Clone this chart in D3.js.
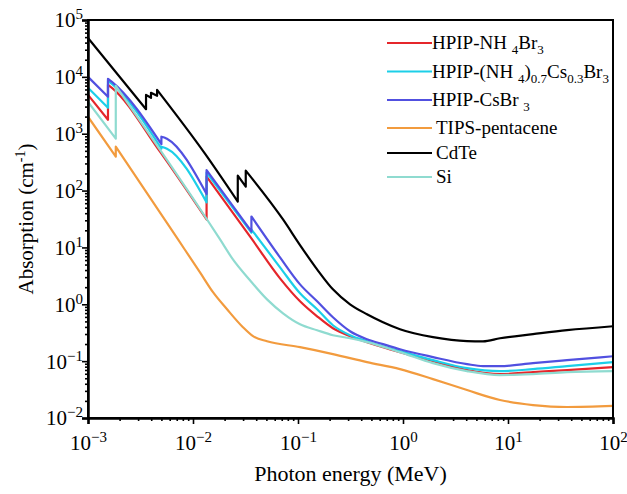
<!DOCTYPE html>
<html>
<head>
<meta charset="utf-8">
<script src="https://cdn.jsdelivr.net/npm/d3@7"></script>
</head>
<body style="margin:0; background:#fff;">
<div class="chart"></div>
<script>
//==================================
// Data (photon energy in MeV, absorption in cm^-1)
//==================================
var energyTicks = [1e-3, 1e-2, 1e-1, 1, 10, 100];
var absorptionTicks = [1e-2, 1e-1, 1, 10, 100, 1e3, 1e4, 1e5];

var hpipNH4Br3 = [
	[1e-3, 4830], [1.55e-3, 1760], [1.55e-3, 7240], [1.69e-3, 6420], [4.85e-3, 483],
	[1.347e-2, 31.0], [1.347e-2, 176], [3.6e-2, 14.4], [6.74e-2, 2.86], [0.1045, 1.13],
	[0.152, 0.615], [0.215, 0.379], [0.313, 0.275], [0.454, 0.216], [0.645, 0.176],
	[0.936, 0.144], [1.93, 0.100], [4.07, 0.0695], [8.39, 0.0591], [17.3, 0.0641],
	[36.5, 0.0695], [100, 0.0785]
];

var hpipMixed = [
	[1e-3, 6420], [1.55e-3, 2860], [1.55e-3, 8510], [1.69e-3, 7530], [5.0e-3, 546],
	[5.0e-3, 591], [5.65e-3, 546], [1.347e-2, 62], [1.347e-2, 207], [3.6e-2, 18.3],
	[3.6e-2, 20.7], [6.74e-2, 4.46], [0.1045, 1.56], [0.152, 0.817], [0.215, 0.428],
	[0.313, 0.286], [0.454, 0.224], [0.645, 0.183], [0.936, 0.150], [1.93, 0.104],
	[4.07, 0.0753], [8.39, 0.0668], [17.3, 0.0724], [36.5, 0.0817], [100, 0.0960]
];

var hpipCsBr3 = [
	[1e-3, 10000], [1.55e-3, 4460], [1.55e-3, 9220], [1.69e-3, 8160], [5.0e-3, 654],
	[5.0e-3, 886], [5.4e-3, 851], [5.65e-3, 817], [1.347e-2, 87], [1.347e-2, 228],
	[3.6e-2, 19.1], [3.6e-2, 35.0], [6.74e-2, 6.68], [0.1045, 2.24], [0.152, 1.13],
	[0.215, 0.591], [0.313, 0.336], [0.454, 0.243], [0.645, 0.199], [0.936, 0.162],
	[1.93, 0.118], [4.07, 0.0886], [5.78, 0.0817], [8.39, 0.0817], [17.3, 0.0922],
	[36.5, 0.104], [100, 0.122]
];

var tipsPentacene = [
	[1e-3, 1990], [1.839e-3, 395], [1.839e-3, 591], [7.2e-3, 13.8], [1.166e-2, 3.64],
	[1.55e-2, 1.63], [2.11e-2, 0.817], [2.99e-2, 0.395], [3.73e-2, 0.275], [5.07e-2, 0.224],
	[0.1045, 0.176], [0.215, 0.133], [0.454, 0.0960], [0.936, 0.0724], [1.93, 0.0483],
	[4.07, 0.0310], [8.39, 0.0207], [17.3, 0.0169], [36.5, 0.0156], [100, 0.0163]
];

var cdte = [
	[1e-3, 48300], [3.57e-3, 2700], [3.57e-3, 4830], [3.98e-3, 4280], [3.98e-3, 5240],
	[4.55e-3, 4640], [4.55e-3, 5900], [1.30e-2, 446], [2.67e-2, 64], [2.67e-2, 183],
	[3.18e-2, 117], [3.18e-2, 224], [7.2e-2, 31.0], [0.1045, 11.0], [0.152, 4.11],
	[0.215, 1.83], [0.313, 1.00], [0.454, 0.668], [0.645, 0.483], [0.936, 0.364],
	[1.93, 0.264], [4.07, 0.225], [5.78, 0.223], [8.39, 0.253], [17.3, 0.298],
	[36.5, 0.350], [100, 0.411]
];

var silicon = [
	[1e-3, 3640], [1.839e-3, 817], [1.839e-3, 6950], [1.36e-2, 31.0], [1.81e-2, 13.8],
	[2.40e-2, 6.15], [3.49e-2, 2.64], [5.07e-2, 1.22], [7.2e-2, 0.695], [0.1045, 0.446],
	[0.152, 0.350], [0.215, 0.286], [0.313, 0.253], [0.454, 0.216], [0.936, 0.144],
	[1.93, 0.0922], [4.07, 0.0668], [8.39, 0.0568], [17.3, 0.0591], [36.5, 0.0641],
	[100, 0.0668]
];

// legend labels: [text, 0 normal / 1 subscript]
var seriesLabels = [
	[["HPIP-NH ", 0], ["4", 1], ["Br", 0], ["3", 1]],
	[["HPIP-(NH ", 0], ["4", 1], [")", 0], ["0.7", 1], ["Cs", 0], ["0.3", 1], ["Br", 0], ["3", 1]],
	[["HPIP-CsBr ", 0], ["3", 1]],
	[["TIPS-pentacene", 0]],
	[["CdTe", 0]],
	[["Si", 0]]
];
var seriesData = [hpipNH4Br3, hpipMixed, hpipCsBr3, tipsPentacene, cdte, silicon];
var seriesColors = ["#e5262b", "#1ccfe8", "#5150e0", "#f29b3e", "#000000", "#8fdbd0"];

var FONT = "'Liberation Serif', 'Times New Roman'";

//==================================
// Set up our chart
//==================================
var svgWidth = 627;
var svgHeight = 494;
var margin = { top: 20, right: 14, bottom: 76, left: 88 };
var width = svgWidth - margin.left - margin.right;
var height = svgHeight - margin.top - margin.bottom;

var svg = d3.select(".chart")
	.append("svg")
	.attr("width", svgWidth)
	.attr("height", svgHeight);

var chart = svg.append("g")
	.attr("transform", "translate(" + margin.left + "," + margin.top + ")");

var xScale = d3.scaleLog().domain([1e-3, 1e2]).range([0, width]);
var yScale = d3.scaleLog().domain([1e-2, 1e5]).range([height, 0]);

// minor tick positions 2..9 in each decade
function minorTicks(lo, hi) {
	var out = [];
	for (var p = lo; p < hi; p++) {
		for (var m = 2; m <= 9; m++) out.push(m * Math.pow(10, p));
	}
	return out;
}

// smooth pieces between absorption edges, joined by vertical jumps
var smooth = d3.line()
	.x(function(d) { return xScale(d[0]); })
	.y(function(d) { return yScale(d[1]); })
	.curve(d3.curveMonotoneX);

function edgePath(data) {
	var pieces = [[data[0]]];
	for (var i = 1; i < data.length; i++) {
		if (data[i][0] === data[i - 1][0]) pieces.push([data[i]]);
		else pieces[pieces.length - 1].push(data[i]);
	}
	return pieces.map(function(p, k) {
		var s = p.length > 1 ? smooth(p) : "M" + xScale(p[0][0]) + "," + yScale(p[0][1]);
		return k === 0 ? s : "L" + s.slice(1);
	}).join("");
}

chart.append("clipPath").attr("id", "plotclip")
	.append("rect").attr("width", width).attr("height", height);

chart.append("g").attr("clip-path", "url(#plotclip)")
	.selectAll("path")
	.data(seriesData)
	.enter()
	.append("path")
	.attr("d", edgePath)
	.attr("fill", "none")
	.attr("stroke", function(d, i) { return seriesColors[i]; })
	.attr("stroke-width", 2.2)
	.attr("stroke-linejoin", "round");

// frame
chart.append("rect")
	.attr("width", width)
	.attr("height", height)
	.attr("fill", "none")
	.attr("stroke", "#000")
	.attr("stroke-width", 2);

// superscript label helper
function powerLabel(sel, d) {
	var exp = Math.round(Math.log10(d));
	sel.text(null);
	sel.append("tspan").text("10");
	sel.append("tspan")
		.attr("dy", -8)
		.attr("font-size", 15)
		.text(exp < 0 ? "\u2212" + (-exp) : String(exp));
}

// x axis
var bottomAxis = d3.axisBottom(xScale).tickValues(energyTicks).tickSize(6).tickFormat("");
var gx = chart.append("g")
	.attr("transform", "translate(0," + height + ")")
	.call(bottomAxis);
gx.selectAll(".tick text")
	.attr("y", 32)
	.attr("dy", 0)
	.attr("font-size", 21)
	.each(function(d) { powerLabel(d3.select(this), d); });

chart.append("g")
	.attr("transform", "translate(0," + height + ")")
	.call(d3.axisBottom(xScale).tickValues(minorTicks(-3, 2)).tickSize(3).tickFormat(""))
	.select(".domain").remove();

// y axis
var leftAxis = d3.axisLeft(yScale).tickValues(absorptionTicks).tickSize(6).tickFormat("");
var gy = chart.append("g").call(leftAxis);
gy.selectAll(".tick text")
	.attr("x", -5)
	.attr("dy", "0.33em")
	.attr("font-size", 21)
	.each(function(d) { powerLabel(d3.select(this), d); });

chart.append("g")
	.call(d3.axisLeft(yScale).tickValues(minorTicks(-2, 5)).tickSize(3).tickFormat(""))
	.select(".domain").remove();

chart.selectAll(".domain").attr("stroke-width", 2.5);
chart.selectAll(".tick line").attr("stroke-width", 1.6);

// axis titles
chart.append("text")
	.attr("x", width / 2)
	.attr("y", height + 63)
	.attr("text-anchor", "middle")
	.attr("font-size", 22)
	.text("Photon energy (MeV)");

var yTitle = chart.append("text")
	.attr("transform", "translate(" + (-55) + "," + (height / 2) + ") rotate(-90)")
	.attr("text-anchor", "middle")
	.attr("font-size", 21);
yTitle.append("tspan").text("Absorption (cm");
yTitle.append("tspan").attr("dy", -8).attr("font-size", 14).text("-1");
yTitle.append("tspan").attr("dy", 8).text(")");

// legend
var legendRows = [43, 71.5, 100, 128, 153, 177];
var legend = svg.append("g").attr("class", "legend");
seriesLabels.forEach(function(parts, i) {
	var yy = legendRows[i];
	legend.append("line")
		.attr("x1", 387).attr("x2", 432)
		.attr("y1", yy).attr("y2", yy)
		.attr("stroke", seriesColors[i])
		.attr("stroke-width", 2.2);
	var t = legend.append("text")
		.attr("x", i < 3 ? 432 : 436)
		.attr("y", yy + 6)
		.attr("font-size", 19);
	var shift = 0;
	parts.forEach(function(p) {
		var target = p[1] ? 5 : 0;
		var ts = t.append("tspan").attr("dy", target - shift).text(p[0]);
		if (p[1]) ts.attr("font-size", 13);
		shift = target;
	});
});

// serif everywhere, set inline
svg.selectAll("text")
	.style("font-family", FONT)
	.style("white-space", "pre")
	.attr("fill", "#000");
</script>
</body>
</html>
